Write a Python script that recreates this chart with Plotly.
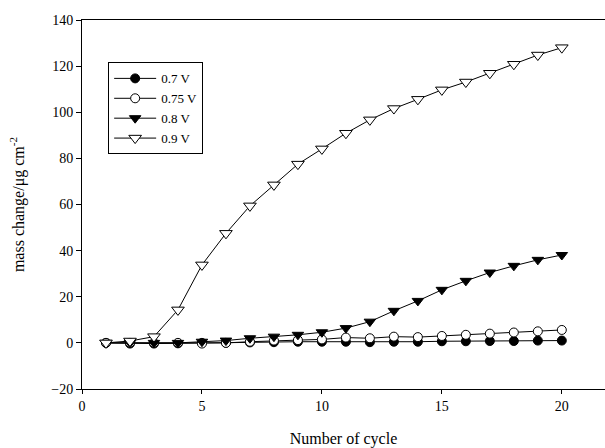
import plotly.graph_objects as go

cycles = list(range(1, 21))
v07 = [0, -0.3, -0.3, -0.2, 0, 0, 0.2, 0.3, 0.5, 0.5, 0.5, 0.3, 0.5, 0.5, 0.7, 0.7, 0.8, 0.8, 1.0, 1.0]
v075 = [0, 0, 0, 0, -0.3, 0, 0.5, 1.0, 1.2, 1.5, 2.3, 2.0, 2.7, 2.5, 3.0, 3.5, 4.0, 4.5, 5.0, 5.6]
v08 = [0, 0, 0, 0, 0.5, 1.0, 2.0, 2.7, 3.5, 4.6, 6.4, 9.2, 13.9, 18.2, 23.0, 26.9, 30.5, 33.4, 36.0, 38.1]
v09 = [0, 0.8, 2.7, 14.3, 33.8, 47.5, 59.4, 68.5, 77.5, 84.1, 90.9, 96.7, 101.6, 105.6, 109.7, 113.1, 116.9, 120.8, 124.8, 128.0]

series = [
    ("0.7 V", v07, "circle", "black", 9),
    ("0.75 V", v075, "circle", "white", 9),
    ("0.8 V", v08, "triangle-down", "black", 10),
    ("0.9 V", v09, "triangle-down", "white", 11),
]

FONT = "Liberation Serif, Times New Roman, serif"

fig = go.Figure()
for name, vals, sym, fill, size in series:
    fig.add_trace(go.Scatter(
        x=cycles, y=vals, name=name, mode="lines+markers",
        line=dict(color="black", width=1),
        marker=dict(symbol=sym, size=size, color=fill,
                    line=dict(color="black", width=1)),
    ))

fig.update_layout(
    width=605, height=448,
    margin=dict(l=82, r=0, t=20, b=59),
    paper_bgcolor="white", plot_bgcolor="white",
    font=dict(family=FONT, size=14, color="black"),
    showlegend=True,
    legend=dict(
        x=0.05, y=0.885, xanchor="left", yanchor="top",
        bordercolor="black", borderwidth=1, bgcolor="white",
        font=dict(family=FONT, size=13),
        tracegroupgap=0, itemwidth=42,
    ),
    xaxis=dict(
        range=[0, 21.8], tickvals=[0, 5, 10, 15, 20],
        showline=True, linecolor="black", linewidth=1, mirror=True,
        ticks="outside", ticklen=4, tickcolor="black",
        showgrid=False, zeroline=False,
        title=dict(text="Number of cycle", font=dict(family=FONT, size=16), standoff=20),
    ),
    yaxis=dict(
        range=[-20, 140], tickvals=list(range(-20, 141, 20)),
        showline=True, linecolor="black", linewidth=1,
        ticks="outside", ticklen=5, tickcolor="black",
        showgrid=False, zeroline=False,
        title=dict(text="mass change/μg cm<sup>-2</sup>", font=dict(family=FONT, size=16), standoff=22),
    ),
)

fig.write_html("out.html")
